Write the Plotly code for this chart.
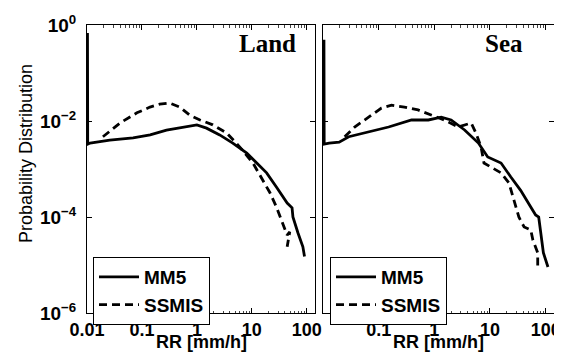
import plotly.graph_objects as go

# ---------------- data ----------------
land_mm5_rr = [0.0102, 0.0103, 0.0114, 0.026, 0.069, 0.141, 0.28, 0.66, 1.0, 1.5, 2.6, 4.5,
               8.1, 12.3, 18.6, 28, 44, 54, 56, 69, 85, 91]
land_mm5_pdf = [0.68, 0.0033, 0.00347, 0.00398, 0.00447, 0.00513, 0.00646, 0.0075, 0.0083,
                0.0071, 0.00513, 0.00347, 0.00214, 0.00133, 0.00083, 0.00042, 0.000195,
                0.000155, 0.0001, 4.7e-5, 2.4e-5, 1.5e-5]

land_ssmis_rr = [0.0195, 0.040, 0.081, 0.14, 0.21, 0.32, 0.49, 0.74, 1.14, 1.95, 3.5, 6.0,
                 10.5, 15.8, 21.4, 28, 36, 44, 49, 44]
land_ssmis_pdf = [0.0047, 0.0091, 0.0148, 0.0195, 0.0224, 0.0237, 0.0195, 0.0133, 0.0105,
                  0.0083, 0.0056, 0.0029, 0.00133, 0.00059, 0.00032, 0.000162, 7.5e-5,
                  4.2e-5, 4.9e-5, 2.4e-5]

sea_mm5_rr = [0.0104, 0.0105, 0.0129, 0.0195, 0.029, 0.066, 0.151, 0.39, 0.78, 1.33, 2.0, 3.5,
              6.2, 9.1, 15.8, 23.7, 35.5, 54, 66, 75, 81, 91, 110]
sea_mm5_pdf = [0.49, 0.0033, 0.00347, 0.00363, 0.0047, 0.0059, 0.0075, 0.0105, 0.0105, 0.012,
               0.0105, 0.0065, 0.00347, 0.00178, 0.00133, 0.00068, 0.00036, 0.000162,
               0.00011, 0.0001, 4.7e-5, 1.8e-5, 9.1e-6]

sea_ssmis_rr = [0.0245, 0.037, 0.066, 0.112, 0.17, 0.29, 0.51, 0.89, 1.5, 2.7, 4.6, 5.6, 6.9,
                7.8, 10.5, 15.8, 21.9, 25.7, 33, 41, 54, 59, 72, 72]
sea_ssmis_pdf = [0.0047, 0.0075, 0.012, 0.0186, 0.0214, 0.0195, 0.017, 0.0133, 0.0105, 0.0075,
                 0.0091, 0.0056, 0.0029, 0.00133, 0.0011, 0.00083, 0.00051, 0.00026, 0.0001,
                 6.2e-5, 5.4e-5, 3.3e-5, 1.8e-5, 7.9e-6]

x_tickvals = [0.01, 0.1, 1, 10, 100]
x_ticktext_left = ["0.01", "0.1", "1", "10", "100"]
x_ticktext_right = ["", "0.1", "1", "10", "100"]
y_tickvals = [1e-6, 1e-4, 1e-2, 1]
y_ticktext = ["10<sup>−6</sup>", "10<sup>−4</sup>", "10<sup>−2</sup>", "10<sup>0</sup>"]
x_title = "RR [mm/h]"
y_title = "Probability Distribution"
panel_names = ["Land", "Sea"]

# minor tick positions (2..9 within each decade)
x_minor = [m * 10.0 ** e for e in range(-2, 3) for m in range(2, 10) if m * 10.0 ** e < 150]

# ---------------- figure ----------------
# target geometry in page pixels; the page body adds an 8 px offset
W, H = 562, 354
OFF = 8
left_px, right_px, top_px, bottom_px = 87, 554, 25, 313
ml, mt = left_px - OFF, top_px - OFF
mr, mb = W - (right_px - OFF), H - (bottom_px - OFF)
pw = right_px - left_px
ph = bottom_px - top_px
left_dom = [0, (315 - left_px) / pw]
right_dom = [(323 - left_px) / pw, 1]

SANS = "Liberation Sans, Arial, Helvetica, sans-serif"
SERIF = "Liberation Serif, Times New Roman, serif"

fig = go.Figure()

solid = dict(color="black", width=2.8)
dashed = dict(color="black", width=2.8, dash="8px,5px")

fig.add_trace(go.Scatter(x=land_mm5_rr, y=land_mm5_pdf, mode="lines", line=solid,
                         name="MM5", xaxis="x", yaxis="y", legend="legend"))
fig.add_trace(go.Scatter(x=land_ssmis_rr, y=land_ssmis_pdf, mode="lines", line=dashed,
                         name="SSMIS", xaxis="x", yaxis="y", legend="legend"))
fig.add_trace(go.Scatter(x=sea_mm5_rr, y=sea_mm5_pdf, mode="lines", line=solid,
                         name="MM5", xaxis="x2", yaxis="y2", legend="legend2"))
fig.add_trace(go.Scatter(x=sea_ssmis_rr, y=sea_ssmis_pdf, mode="lines", line=dashed,
                         name="SSMIS", xaxis="x2", yaxis="y2", legend="legend2"))

tickfont = dict(family=SANS, size=18, color="black", weight="bold")
ytickfont = dict(family=SANS, size=19, color="black", weight="bold")

common_x = dict(type="log", range=[-2, 2.15], showline=True, mirror="ticks", linecolor="black",
                linewidth=1, ticks="inside", ticklen=5, tickcolor="black", tickvals=x_tickvals,
                showgrid=False, zeroline=False, tickfont=tickfont, automargin=False,
                minor=dict(ticks="inside", ticklen=2.5, tickcolor="#444", tickvals=x_minor,
                           showgrid=False))
common_y = dict(type="log", range=[-6, 0], showline=True, mirror="ticks", linecolor="black",
                linewidth=1, ticks="inside", ticklen=5, tickcolor="black", tickvals=y_tickvals,
                ticktext=y_ticktext, showgrid=False, zeroline=False, tickfont=ytickfont,
                ticklabelstandoff=6, automargin=False)

legend_common = dict(bgcolor="white", bordercolor="black", borderwidth=1,
                     font=dict(family=SANS, size=19, color="black", weight="bold"),
                     xanchor="left", yanchor="top", tracegroupgap=0, itemwidth=40)

xtitle_font = dict(family=SANS, size=18, color="black", weight="bold")

fig.update_layout(
    width=W, height=H, autosize=False,
    margin=dict(l=ml, r=mr, t=mt, b=mb, pad=0, autoexpand=False),
    paper_bgcolor="white", plot_bgcolor="white",
    xaxis=dict(common_x, domain=left_dom, anchor="y", ticktext=x_ticktext_left),
    yaxis=dict(common_y, domain=[0, 1], anchor="x"),
    xaxis2=dict(common_x, domain=right_dom, anchor="y2", ticktext=x_ticktext_right),
    yaxis2=dict(common_y, domain=[0, 1], anchor="x2", showticklabels=False),
    legend=dict(legend_common, x=(93 - left_px) / pw, y=(bottom_px - 257) / ph),
    legend2=dict(legend_common, x=(330 - left_px) / pw, y=(bottom_px - 257) / ph),
    annotations=[
        dict(text="<b>%s</b>" % panel_names[0], xref="x domain", yref="y domain", x=0.925,
             y=0.9375, xanchor="right", yanchor="middle", showarrow=False,
             font=dict(family=SERIF, size=25, color="black")),
        dict(text="<b>%s</b>" % panel_names[1], xref="x2 domain", yref="y2 domain", x=0.874,
             y=0.9375, xanchor="right", yanchor="middle", showarrow=False,
             font=dict(family=SERIF, size=25, color="black")),
        dict(text=x_title, xref="x domain", yref="paper", x=0.5,
             y=(bottom_px - 354) / ph, xanchor="center", yanchor="bottom",
             showarrow=False, font=xtitle_font),
        dict(text=x_title, xref="x2 domain", yref="paper", x=0.5,
             y=(bottom_px - 354) / ph, xanchor="center", yanchor="bottom",
             showarrow=False, font=xtitle_font),
        dict(text=y_title, xref="paper", yref="paper", x=(26 - left_px) / pw,
             y=(bottom_px - 154) / ph, xanchor="center", yanchor="middle", textangle=-90,
             showarrow=False, font=dict(family=SANS, size=18, color="black")),
    ],
)

fig.write_html("out.html")
